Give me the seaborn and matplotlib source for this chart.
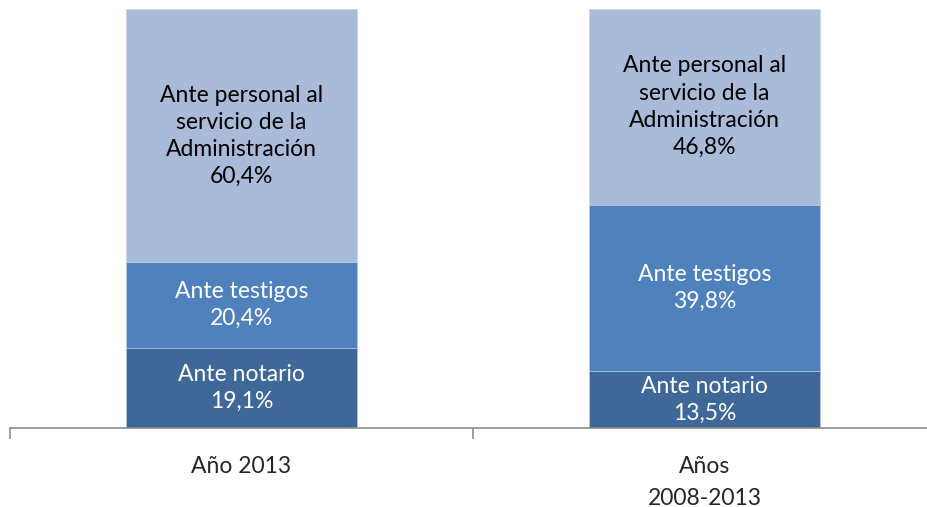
import matplotlib
matplotlib.use("Agg")
import matplotlib.pyplot as plt
import seaborn as sns
import pandas as pd

# data
categories = ["Año 2013", "Años\n2008-2013"]
series = ["Ante notario", "Ante testigos", "Ante personal al\nservicio de la\nAdministración"]
notario = [19.1, 13.5]
testigos = [20.4, 39.8]
personal = [60.4, 46.8]
labels_notario = ["19,1%", "13,5%"]
labels_testigos = ["20,4%", "39,8%"]
labels_personal = ["60,4%", "46,8%"]

colors = ["#3F6898", "#4F81BD", "#AABBD9"]
text_colors = ["white", "white", "black"]

sns.set_style("white")
plt.rcParams["font.family"] = ["Lato", "DejaVu Sans"]

df = pd.DataFrame({"cat": categories, "notario": notario,
                   "testigos": testigos, "personal": personal})
df["c1"] = df["notario"]
df["c2"] = df["c1"] + df["testigos"]
df["c3"] = df["c2"] + df["personal"]

fig = plt.figure(figsize=(9.28, 5.07), dpi=100)
ax = fig.add_axes([10 / 928, 79 / 507, 926 / 928, 419 / 507])

# stacked bars drawn as overlapping cumulative bars, tallest first
for col, c in zip(["c3", "c2", "c1"], colors[::-1]):
    sns.barplot(data=df, x="cat", y=col, color=c, width=0.5, ax=ax,
                edgecolor="#c9d4e8", linewidth=0.5, saturation=1)

vals = [notario, testigos, personal]
pct = [labels_notario, labels_testigos, labels_personal]
cums = [df["c1"], df["c2"], df["c3"]]
for k in range(3):
    for i in range(len(categories)):
        y = cums[k][i] - vals[k][i] / 2
        ax.text(i, y, series[k] + "\n" + pct[k][i], ha="center", va="center",
                color=text_colors[k], fontsize=16.5, linespacing=1.36)

ax.set_xlim(-0.5, 1.5)
ax.set_ylim(0, 100)
ax.set_xlabel("")
ax.set_ylabel("")
ax.set_yticks([])
for s in ["top", "right", "left"]:
    ax.spines[s].set_visible(False)
ax.spines["bottom"].set_color("#8c8c8c")
ax.spines["bottom"].set_linewidth(1.2)

ax.set_xticks([0, 1])
ax.set_xticklabels(categories, fontsize=16.5)
ax.tick_params(axis="x", which="major", length=0, pad=20)
ax.set_xticks([-0.5, 0.5, 1.5], minor=True)
ax.tick_params(axis="x", which="minor", bottom=True, length=8, width=1.2,
               color="#8c8c8c", direction="out")
for lab in ax.get_xticklabels():
    lab.set_linespacing(1.65)

fig.savefig("out.png", dpi=100)
